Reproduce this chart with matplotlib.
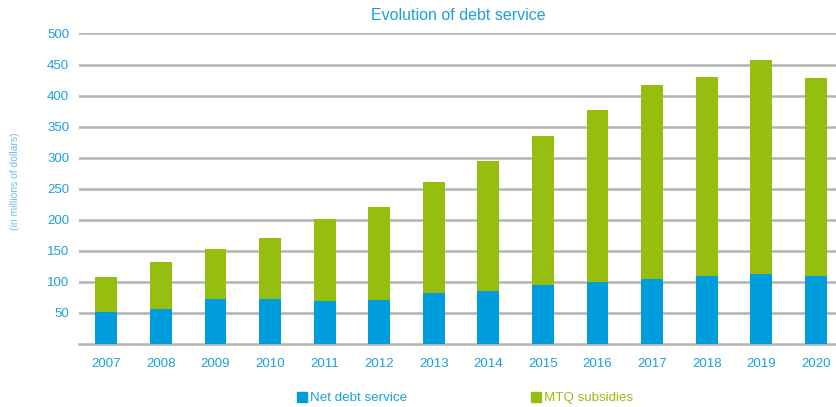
import matplotlib.pyplot as plt
import numpy as np
from matplotlib.patches import Patch

# debt service by year, in millions of dollars
years = ["2007", "2008", "2009", "2010", "2011", "2012", "2013",
         "2014", "2015", "2016", "2017", "2018", "2019", "2020"]
net_debt = [51, 56, 72, 72, 69, 70, 81, 85, 95, 100, 104, 109, 112, 109]
mtq_subsidies = [56, 76, 81, 98, 132, 150, 180, 210, 240, 277, 313, 321, 345, 319]

blue = "#009ddc"
green = "#95be0f"
text_blue = "#1ba0dc"
grid_gray = "#b0b5b0"

plt.rcParams["font.family"] = ["Liberation Sans", "DejaVu Sans"]

fig = plt.figure(figsize=(8.36, 4.07), dpi=100)
ax = fig.add_axes([79 / 836, 0.1555, 1 - 79 / 836, 0.7622])

x = np.arange(len(years))
ax.bar(x, net_debt, width=0.4, color=blue, zorder=3)
ax.bar(x, mtq_subsidies, width=0.4, bottom=net_debt, color=green, zorder=3)

ax.set_xlim(-0.5, 13.37)
ax.set_ylim(0, 500)
ax.set_yticks(np.arange(50, 501, 50))
ax.set_xticks(x)
ax.set_xticklabels(years)
ax.yaxis.grid(True, color=grid_gray, linewidth=1.8, zorder=0)
ax.set_axisbelow(True)

for side in ["top", "right", "left"]:
    ax.spines[side].set_visible(False)
ax.spines["bottom"].set_color(grid_gray)
ax.spines["bottom"].set_linewidth(1.8)
ax.tick_params(axis="both", length=0, colors=text_blue, labelsize=9.5)
ax.tick_params(axis="x", pad=10)
ax.tick_params(axis="y", pad=7)

fig.text(0.548, 0.962, "Evolution of debt service", ha="center", va="center",
         color=text_blue, fontsize=11.5)
fig.text(0.018, 0.555, "(in millions of dollars)", rotation=90, ha="center",
         va="center", color="#6cc0e8", fontsize=7.5)

# two separate legend entries placed apart under the plot
leg_kw = dict(frameon=False, fontsize=9.6, handlelength=0.75, handleheight=0.75,
              handletextpad=0.2, borderpad=0, borderaxespad=0)
leg1 = fig.legend(handles=[Patch(color=blue, label="Net debt service")],
                  loc="center left", bbox_to_anchor=(297 / 836, 1 - 398 / 407), **leg_kw)
leg2 = fig.legend(handles=[Patch(color=green, label="MTQ subsidies")],
                  loc="center left", bbox_to_anchor=(531 / 836, 1 - 398 / 407), **leg_kw)
for t in leg1.get_texts():
    t.set_color(text_blue)
for t in leg2.get_texts():
    t.set_color(green)

fig.savefig("out.png", dpi=100)
